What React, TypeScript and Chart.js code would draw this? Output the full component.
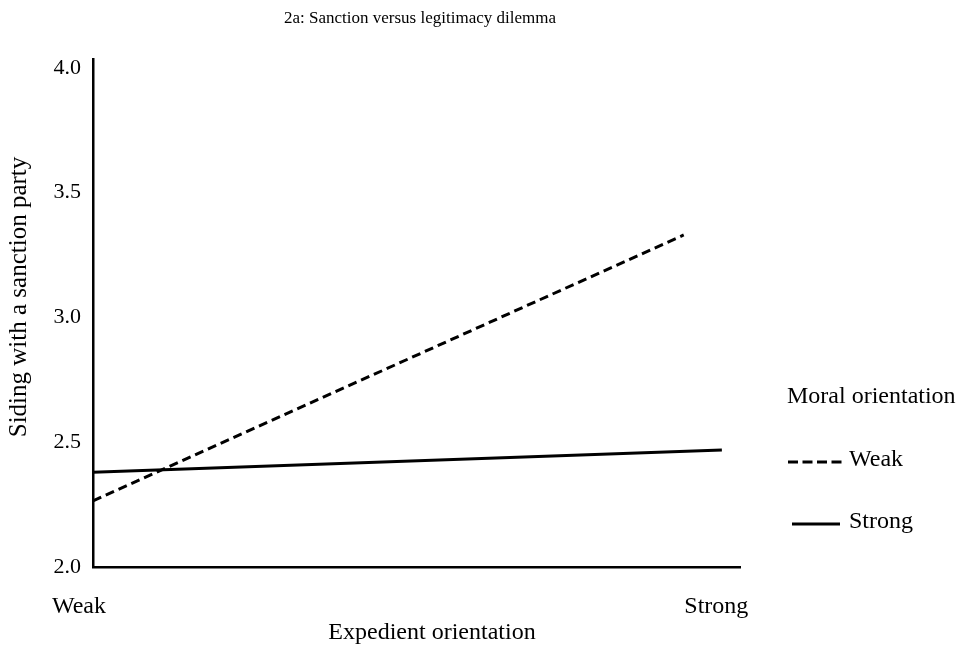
import React, { useEffect, useRef } from "react";
import { Chart, registerables } from "chart.js";

Chart.register(...registerables);

const chartTitle = "2a: Sanction versus legitimacy dilemma";
const xAxisTitle = "Expedient orientation";
const yAxisTitle = "Siding with a sanction party";
const legendTitle = "Moral orientation";

const seriesNames = ["Weak", "Strong"];
const weakX = [0, 0.913];
const weakY = [2.265, 3.33];
const strongX = [0, 0.972];
const strongY = [2.38, 2.469];

const xTickValues = [0, 0.985];
const xTickLabels = ["Weak", "Strong"];
const yTickValues = [2.0, 2.5, 3.0, 3.5, 4.0];

const FONT = '"Liberation Serif", "Times New Roman", serif';
const INK = "#000000";

const textPlugin = {
  id: "textPlugin",
  afterDraw(chart: any) {
    const ctx = chart.ctx;
    ctx.save();
    ctx.fillStyle = INK;
    ctx.textBaseline = "middle";

    // chart title
    ctx.font = `17px ${FONT}`;
    ctx.textAlign = "center";
    ctx.fillText(chartTitle, 420, 19);

    // x axis title
    ctx.font = `24px ${FONT}`;
    ctx.fillText(xAxisTitle, 432, 633);

    // y axis title
    ctx.save();
    ctx.font = `25px ${FONT}`;
    ctx.translate(19, 297);
    ctx.rotate(-Math.PI / 2);
    ctx.fillText(yAxisTitle, 0, 0);
    ctx.restore();

    // legend
    ctx.textAlign = "left";
    ctx.font = `24px ${FONT}`;
    ctx.fillText(legendTitle, 787, 397);
    const rows = [
      { y: 462, x0: 788, x1: 842 },
      { y: 524, x0: 792, x1: 840 },
    ];
    chart.data.datasets.forEach((ds: any, i: number) => {
      const r = rows[i];
      ctx.save();
      ctx.strokeStyle = ds.borderColor;
      ctx.lineWidth = ds.borderWidth;
      ctx.setLineDash(i === 0 ? [10, 4.5] : []);
      ctx.beginPath();
      ctx.moveTo(r.x0, r.y);
      ctx.lineTo(r.x1, r.y);
      ctx.stroke();
      ctx.restore();
      ctx.font = `24px ${FONT}`;
      ctx.fillText(ds.label, 849, r.y - 2);
    });
    ctx.restore();
  },
};

export default function App() {
  const ref = useRef<HTMLCanvasElement | null>(null);

  useEffect(() => {
    document.body.style.margin = "0";
    const canvas = ref.current;
    if (!canvas) return;
    const chart = new Chart(canvas, {
      type: "line",
      data: {
        datasets: [
          {
            label: seriesNames[0],
            data: weakX.map((x, i) => ({ x, y: weakY[i] })),
            borderColor: INK,
            borderWidth: 3,
            borderDash: [9, 5],
            pointRadius: 0,
            fill: false,
          },
          {
            label: seriesNames[1],
            data: strongX.map((x, i) => ({ x, y: strongY[i] })),
            borderColor: INK,
            borderWidth: 3,
            pointRadius: 0,
            fill: false,
          },
        ],
      },
      options: {
        responsive: false,
        animation: false,
        devicePixelRatio: 1,
        layout: { padding: { top: 59, right: 222, bottom: 0, left: 0 } },
        plugins: {
          legend: { display: false },
          title: { display: false },
          tooltip: { enabled: false },
        },
        scales: {
          x: {
            type: "linear",
            min: 0,
            max: 1,
            grid: { display: false, drawTicks: false },
            border: { display: true, color: INK, width: 2.5 },
            afterFit: (s: any) => {
              s.height = 85;
            },
            afterBuildTicks: (s: any) => {
              s.ticks = xTickValues.map((v) => ({ value: v }));
            },
            ticks: {
              padding: 25,
              labelOffset: -14,
              maxRotation: 0,
              autoSkip: false,
              color: INK,
              font: { family: FONT, size: 24 },
              callback: (v: any) => {
                const i = xTickValues.indexOf(Number(v));
                return i >= 0 ? xTickLabels[i] : "";
              },
            },
          },
          y: {
            type: "linear",
            min: 2,
            max: 4.035,
            grid: { display: false, drawTicks: false },
            border: { display: true, color: INK, width: 2.5 },
            afterFit: (s: any) => {
              s.width = 93;
            },
            afterBuildTicks: (s: any) => {
              s.ticks = yTickValues.map((v) => ({ value: v }));
            },
            ticks: {
              padding: 12,
              color: INK,
              font: { family: FONT, size: 22 },
              callback: (v: any) => Number(v).toFixed(1),
            },
          },
        },
      },
      plugins: [textPlugin],
    });
    return () => chart.destroy();
  }, []);

  return (
    <div style={{ position: "absolute", left: 0, top: 0, width: 962, height: 652, background: "#fff" }}>
      <canvas ref={ref} width={962} height={652} style={{ display: "block" }} />
    </div>
  );
}
